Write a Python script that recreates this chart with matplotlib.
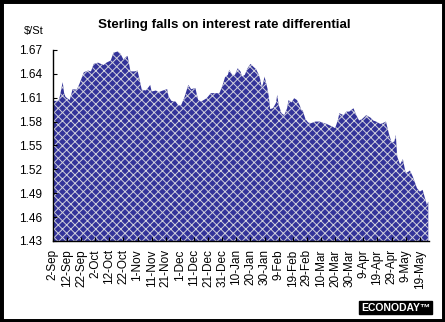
import numpy as np
import pandas as pd
import matplotlib
matplotlib.use("Agg")
import matplotlib.pyplot as plt

# -----------------------------------
# DATA
# -----------------------------------

start_date = "1999-09-02"

# days after 2-Sep-1999
day_offset = [
    0, 4, 5, 7, 8, 9, 12, 14, 17, 19, 22, 25, 27, 29, 32, 36, 38, 41, 43, 46,
    48, 50, 52, 53, 55, 58, 60, 61, 63, 66, 69, 70, 73, 75, 78, 81, 82, 84, 87, 89,
    91, 93, 96, 98, 101, 103, 105, 109, 112, 116, 118, 120, 122, 124, 125, 127, 129, 131, 133, 134,
    136, 138, 140, 142, 144, 146, 147, 148, 149, 150, 152, 153, 154, 156, 158, 159, 160, 162, 164, 166,
    167, 169, 171, 173, 175, 176, 177, 179, 181, 183, 186, 189, 192, 194, 198, 200, 202, 203, 206, 208,
    210, 213, 215, 217, 219, 222, 225, 227, 229, 232, 235, 236, 238, 240, 242, 243, 244, 246, 248, 250,
    252, 253, 255, 258, 260, 262, 263, 265, 266,
]

usd_per_gbp = [
    1.606, 1.606, 1.612, 1.6295, 1.6157, 1.611, 1.607, 1.6207, 1.620, 1.628,
    1.642, 1.644, 1.643, 1.6524, 1.654, 1.651, 1.654, 1.6566, 1.6666, 1.668,
    1.665, 1.658, 1.6616, 1.6625, 1.643, 1.643, 1.644, 1.6365, 1.620, 1.619,
    1.626, 1.6177, 1.619, 1.617, 1.619, 1.6207, 1.6114, 1.606, 1.605, 1.600,
    1.601, 1.6093, 1.626, 1.6207, 1.622, 1.607, 1.605, 1.6093, 1.6157, 1.6157,
    1.6157, 1.624, 1.6357, 1.6386, 1.645, 1.6386, 1.6386, 1.647, 1.6428, 1.6365,
    1.6386, 1.647, 1.6524, 1.649, 1.6458, 1.6386, 1.6324, 1.623, 1.628, 1.6365,
    1.622, 1.6114, 1.5956, 1.5968, 1.603, 1.6135, 1.601, 1.5905, 1.588, 1.5968,
    1.607, 1.604, 1.6093, 1.607, 1.600, 1.5947, 1.594, 1.583, 1.5787, 1.578,
    1.580, 1.580, 1.578, 1.577, 1.5737, 1.5717, 1.582, 1.5905, 1.588, 1.5925,
    1.5925, 1.5967, 1.588, 1.5813, 1.583, 1.588, 1.585, 1.5813, 1.580, 1.577,
    1.579, 1.580, 1.5655, 1.5536, 1.555, 1.5633, 1.536, 1.526, 1.5328, 1.515,
    1.5172, 1.5185, 1.511, 1.4963, 1.492, 1.4942, 1.4879, 1.4753, 1.4795,
]

tick_labels = [
    "2-Sep", "12-Sep", "22-Sep", "2-Oct", "12-Oct", "22-Oct", "1-Nov",
    "11-Nov", "21-Nov", "1-Dec", "11-Dec", "21-Dec", "31-Dec", "10-Jan",
    "20-Jan", "30-Jan", "9-Feb", "19-Feb", "29-Feb", "10-Mar", "20-Mar",
    "30-Mar", "9-Apr", "19-Apr", "29-Apr", "9-May", "19-May",
]

y_ticks = [1.43, 1.46, 1.49, 1.52, 1.55, 1.58, 1.61, 1.64, 1.67]

# -----------------------------------
# PLOT
# -----------------------------------

plt.rcParams["font.family"] = ["Liberation Sans", "DejaVu Sans"]
plt.rcParams["hatch.color"] = "#d0d0dc"
plt.rcParams["hatch.linewidth"] = 0.7

t0 = pd.Timestamp(start_date)
dates = t0 + pd.to_timedelta(day_offset, unit="D")
tick_dates = t0 + pd.to_timedelta(np.arange(len(tick_labels)) * 10, unit="D")

fig = plt.figure(figsize=(4.45, 3.22), dpi=100)
fig.patch.set_facecolor("white")

ax = fig.add_axes([0.1187, 0.2516, 0.8453, 0.5934])

ax.fill_between(
    dates,
    usd_per_gbp,
    1.43,
    facecolor="#333399",
    edgecolor="#d0d0dc",
    hatch="xxxx",
    linewidth=0,
)

ax.set_xlim(t0, t0 + pd.Timedelta(days=266.5))
ax.set_ylim(1.43, 1.67)

ax.set_yticks(y_ticks)
ax.set_yticklabels([f"{v:.2f}" for v in y_ticks], fontsize=8.5)
ax.set_xticks(tick_dates)
ax.set_xticklabels(tick_labels, rotation=90, fontsize=8.5)

ax.tick_params(axis="both", direction="in", length=3, width=0.8, colors="black")
ax.tick_params(axis="y", pad=8)
ax.tick_params(axis="x", pad=6)

for side in ["top", "right"]:
    ax.spines[side].set_visible(False)
for side in ["left", "bottom"]:
    ax.spines[side].set_linewidth(1.0)

fig.text(0.505, 0.922, "Sterling falls on interest rate differential",
         ha="center", va="center", fontsize=9.6, fontweight="bold")
fig.text(0.075, 0.903, "$/St", ha="center", va="center", fontsize=8)

fig.text(0.967, 0.045, "ECONODAY\u2122", ha="right", va="center",
         fontsize=7.5, fontweight="bold", color="white",
         bbox=dict(boxstyle="square,pad=0.15", facecolor="black", edgecolor="black"))

# outer black frame
frame = plt.Rectangle((0, 0), 1, 1, transform=fig.transFigure, fill=False,
                      edgecolor="black", linewidth=5)
fig.patches.append(frame)

fig.savefig("out.png", dpi=100)
plt.close(fig)
